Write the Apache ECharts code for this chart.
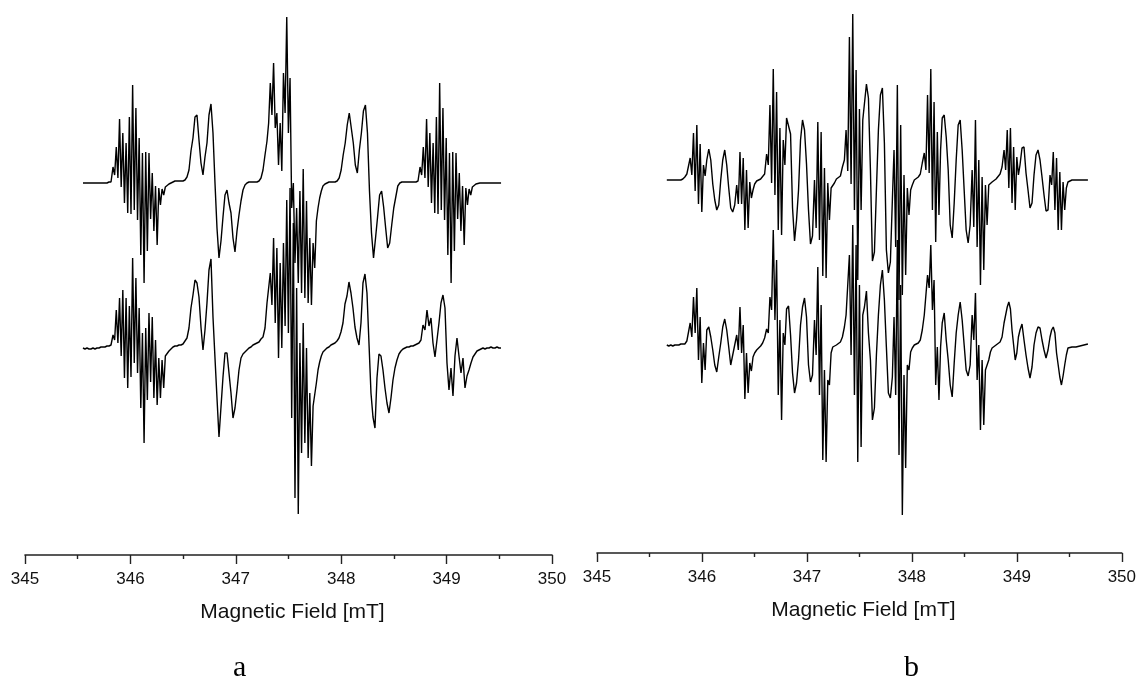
<!DOCTYPE html>
<html>
<head>
<meta charset="utf-8">
<script src="https://cdn.jsdelivr.net/npm/echarts@6/dist/echarts.min.js"></script>
<style>
  html, body { margin: 0; background: #fff; }
  #chart { width: 1139px; height: 677px; }
</style>
</head>
<body>
<div id="chart"></div>
<script>
// Field sweep (mT): run boundaries and samples per run. Hyperfine groups get the finer runs.
const aTopBreaks = [345.55, 345.835, 346.347, 347.296, 347.827, 348.748, 349.26, 349.535];
const aTopCounts = [15, 33, 50, 34, 48, 33, 15];
const aBottomBreaks = [345.55, 345.835, 346.347, 347.296, 347.827, 349.535];
const aBottomCounts = [15, 33, 50, 34, 90];
const bBreaks = [345.665, 345.856, 346.046, 346.331, 346.502, 346.616, 346.806, 347.072, 347.262, 347.357, 347.548,
  347.814, 348.004, 348.118, 348.289, 348.574, 348.764, 348.878, 349.03, 349.316, 349.487, 349.696];
const bCounts = [10, 12, 15, 11, 6, 12, 14, 12, 5, 12, 14, 12, 6, 11, 15, 12, 6, 10, 15, 11, 11];

// Signal intensity, one value per field sample (one line per run or so).
const aTop = [
  0,0,0,0,0,0,0,0,0,0,0,0,0,1,1,
  16,8,36,5,64,-4,50,-20,40,-30,66,-31,98,-27,75,-37,45,-72,30,-100,31,-68,30,-36,10,-48,-3,-62,-5,-22,-6,-12,-4,
  -4,-1,0,1,2,2,2,2,
  2,3,6,13,32,45,66,68,43,20,
  8,26,40,68,79,50,0,-45,-75,-58,
  -34,-12,-7,-20,-30,-55,-69,-48,-32,-18,
  -7,-2,0,1,1,1,1,1,2,5,
  13,28,
  42,60,100,68,120,55,70,18,60,12,110,70,166,50,105,-25,0,-80,-25,-100,-8,-110,14,-115,-18,-120,-55,-122,-60,-85,-38,-25,-15,-8,
  -3,-1,0,1,1,1,1,2,5,13,
  28,40,58,70,55,40,18,10,33,50,
  72,78,50,-8,-50,-75,-55,-34,-12,-8,
  -24,-45,-65,-60,-42,-25,-14,-3,0,1,
  1,1,1,1,1,1,1,2,
  16,8,36,5,64,-4,50,-20,40,-30,66,-31,100,-27,75,-37,45,-72,30,-100,31,-68,30,-36,10,-48,-3,-62,-5,-22,-6,-12,-4,
  -2,-1,0,0,0,0,0,0,0,0,0,0,0,0,0
];
const aBottom = [
  0,-1,0,-1,-1,0,-1,0,0,1,1,1,2,2,3,
  13,8,38,5,50,-8,58,-30,50,-40,42,-29,90,-15,70,-25,40,-60,15,-95,20,-52,35,-34,31,-50,8,-57,-10,-50,-12,-40,-8,
  -7,-3,-1,1,2,2,3,3,
  4,7,10,20,40,53,68,65,51,21,
  -2,18,45,78,89,31,-10,-50,-89,-59,
  -29,-5,-5,-25,-45,-70,-60,-42,-22,-10,
  -6,-4,-2,0,1,3,4,5,6,9,
  11,20,
  45,45,75,43,110,25,100,-10,85,0,105,22,148,15,160,-70,125,-150,60,-166,5,-105,25,-95,0,-110,-45,-118,-58,-58,-35,-22,-14,-8,
  -4,-2,0,1,3,4,5,7,10,16,
  25,44,52,66,55,40,21,10,3,25,
  65,74,55,5,-45,-69,-80,-30,-6,-8,
  -22,-40,-55,-65,-50,-32,-20,-12,-6,-3,
  -1,0,1,1,2,2,3,4,5,8,
  23,18,38,22,30,5,-9,8,25,45,
  53,40,-15,-42,-20,-48,-8,10,-8,-25,
  -10,-40,-28,-22,-15,-9,-6,-3,-2,-1,
  0,-1,0,0,1,0,0,1,0,0
];
const bTop = [
  0,0,0,0,0,0,0,0,1,3,
  6,4,22,5,47,-11,55,-24,36,-32,15,4,
  20,31,20,-4,-20,-30,-25,0,20,30,15,-8,-28,-32,-25,
  -5,-24,28,-24,22,-50,10,-48,-2,-18,-10,
  -4,-1,0,1,3,6,
  26,15,75,-3,111,-15,88,-50,52,-55,40,15,
  62,64,46,-28,-61,-40,-10,40,60,50,16,-30,-64,-56,
  0,-48,58,-60,48,-96,12,-98,-3,-40,-8,-6,
  -3,1,2,4,13,
  20,50,9,143,-4,166,-30,110,-100,71,-30,60,
  60,96,82,10,-81,-72,-10,50,85,92,37,-70,-93,-82,
  -20,30,-67,95,-120,55,-115,5,-95,-8,-35,-10,
  -5,0,2,3,6,17,
  27,10,85,7,111,-30,78,-62,48,-35,30,
  62,65,43,10,-45,-58,-23,20,55,60,30,-10,-50,-63,-45,
  10,-47,60,-67,20,-105,3,-90,-5,-45,-5,-5,
  -2,0,1,3,6,13,
  30,10,50,-8,52,-23,33,-30,23,5,
  15,32,33,7,-10,-28,-23,5,25,30,20,3,-15,-31,-30,
  5,-5,28,-30,22,-50,8,-50,-2,-30,-8,
  -2,0,0,0,0,0,0,0,0,0,0
];
const bBottom = [
  0,-1,0,-1,0,0,0,1,1,1,
  4,3,22,8,48,12,57,-15,28,-38,2,-25,
  15,18,8,-5,-20,-27,-12,2,18,26,15,-2,-20,-18,0,
  10,-5,38,-8,20,-54,-8,-48,-18,-26,-12,
  -8,-5,-3,-1,2,7,
  16,12,48,35,115,25,85,-50,25,-75,12,0,
  36,39,10,-28,-48,-38,-15,20,38,47,28,-20,-37,-30,
  25,-10,78,-50,40,-115,-25,-117,-35,-40,-8,-2,
  0,0,1,3,8,
  18,30,30,90,-10,120,-50,100,-117,60,-102,30,
  38,54,12,-15,-75,-63,-10,30,60,75,45,-2,-48,-53,
  -32,28,-50,105,-110,60,-170,-30,-123,-20,-25,-7,
  -3,0,1,2,5,15,
  30,30,70,57,100,35,65,-40,-2,-55,-2,
  22,32,5,-15,-40,-52,-18,12,30,43,25,0,-25,-31,-20,
  30,5,52,-35,0,-85,-15,-80,-25,-25,-15,-7,
  -3,-1,0,1,3,8,
  22,30,38,43,36,15,0,-15,-8,8,
  15,21,5,-10,-23,-33,-22,0,12,18,17,5,-5,-13,-5,
  8,15,18,12,-8,-20,-32,-40,-31,-20,-10,
  -3,-2,-2,-1,-2,-1,-1,0,0,1,1
];

// Vertical shifts that stack the two spectra of a panel.
const shiftsA = { upper: 372, lower: 207 };
const shiftsB = { upper: 373, lower: 208 };

const xTicks = { min: 345, max: 350, interval: 1 };
const FONT = '"Liberation Sans", Arial, sans-serif';

// Sweep positions of one trace, walking run by run.
function sweepFields(breaks, counts) {
  const fields = [];
  counts.forEach((n, r) => {
    const step = (breaks[r + 1] - breaks[r]) / n;
    for (let k = 0; k < n; k++) fields.push(breaks[r] + k * step);
  });
  return fields;
}

function trace(values, fields, shift, axisIndex) {
  if (values.length !== fields.length) throw new Error(`sweep mismatch ${values.length} vs ${fields.length}`);
  return {
    type: "line",
    xAxisIndex: axisIndex,
    yAxisIndex: axisIndex,
    data: values.map((v, i) => [fields[i], v + shift]),
    showSymbol: false,
    sampling: false,
    lineStyle: { color: "#000", width: 1.4 },
    animation: false,
    silent: true,
  };
}

function fieldAxis(gridIndex) {
  return {
    gridIndex,
    type: "value",
    ...xTicks,
    name: "Magnetic Field [mT]",
    nameLocation: "middle",
    nameGap: 47,
    nameTextStyle: { color: "#111", fontFamily: FONT, fontSize: 21, padding: [0, 0, 0, 8] },
    axisLine: { onZero: false, lineStyle: { color: "#222", width: 1.6 } },
    axisTick: { length: 9, lineStyle: { color: "#222", width: 1.4 } },
    minorTick: { show: true, splitNumber: 2, length: 4, lineStyle: { color: "#222", width: 1.4 } },
    axisLabel: { color: "#111", fontFamily: FONT, fontSize: 17, margin: 16, showMinLabel: true, showMaxLabel: true },
    splitLine: { show: false },
  };
}

function panelLabel(text, x) {
  return {
    text,
    left: x,
    top: 653,
    padding: 0,
    textStyle: { color: "#000", fontFamily: '"Liberation Serif", serif', fontWeight: "normal", fontSize: 30 },
  };
}

const bFields = sweepFields(bBreaks, bCounts);

const chart = echarts.init(document.getElementById("chart"), null, { renderer: "canvas" });
chart.setOption({
  backgroundColor: "#fff",
  animation: false,
  title: [panelLabel("a", 233), panelLabel("b", 904)],
  grid: [
    { left: 25, top: 0, width: 527, height: 555 },
    { left: 597, top: 0, width: 526, height: 553 },
  ],
  xAxis: [fieldAxis(0), fieldAxis(1)],
  yAxis: [
    { gridIndex: 0, type: "value", min: 0, max: 555, show: false },
    { gridIndex: 1, type: "value", min: 0, max: 553, show: false },
  ],
  series: [
    trace(aTop, sweepFields(aTopBreaks, aTopCounts), shiftsA.upper, 0),
    trace(aBottom, sweepFields(aBottomBreaks, aBottomCounts), shiftsA.lower, 0),
    trace(bTop, bFields, shiftsB.upper, 1),
    trace(bBottom, bFields, shiftsB.lower, 1),
  ],
});
</script>
</body>
</html>
